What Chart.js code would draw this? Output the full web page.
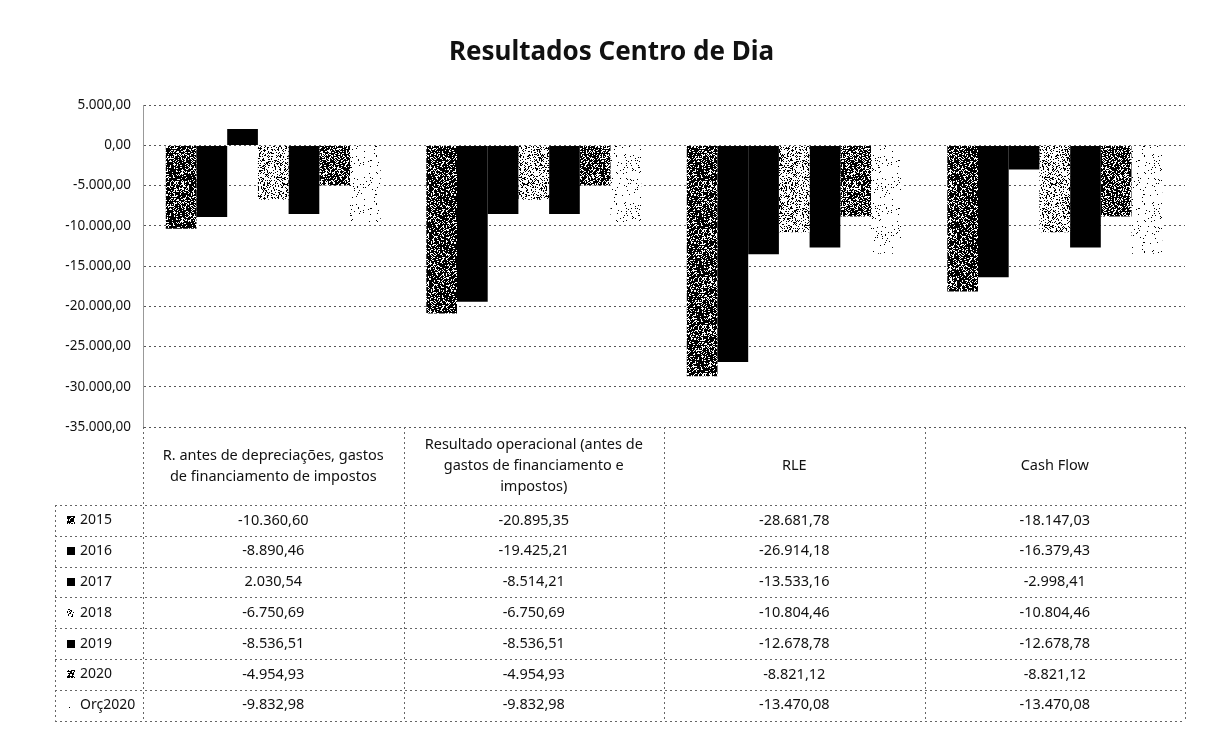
<!DOCTYPE html>
<html>
<head>
<meta charset="utf-8">
<script src="https://cdn.jsdelivr.net/npm/chart.js@4.4.1/dist/chart.umd.min.js"></script>
<style>
  html, body { margin: 0; padding: 0; background: #fff; }
  #wrap { width: 1216px; height: 731px; }
</style>
</head>
<body>
<div id="wrap"><canvas id="chart" width="1216" height="731"></canvas></div>
<script>
const categories = [
  "R. antes de depreciações, gastos de financiamento de impostos",
  "Resultado operacional (antes de gastos de financiamento e impostos)",
  "RLE",
  "Cash Flow"
];
const seriesLabels = ["2015", "2016", "2017", "2018", "2019", "2020", "Orç2020"];
const values2015 = [-10360.60, -20895.35, -28681.78, -18147.03];
const values2016 = [-8890.46, -19425.21, -26914.18, -16379.43];
const values2017 = [2030.54, -8514.21, -13533.16, -2998.41];
const values2018 = [-6750.69, -6750.69, -10804.46, -10804.46];
const values2019 = [-8536.51, -8536.51, -12678.78, -12678.78];
const values2020 = [-4954.93, -4954.93, -8821.12, -8821.12];
const valuesOrc2020 = [-9832.98, -9832.98, -13470.08, -13470.08];
const seriesValues = [values2015, values2016, values2017, values2018, values2019, values2020, valuesOrc2020];

// share of black dots in each bar's halftone
const seriesDensity = [0.74, 1, 1, 0.28, 1, 0.68, 0.05];

const FONT = "\"Noto Sans\", \"DejaVu Sans\", sans-serif";

function makeDither(density) {
  if (density >= 1) return "#000000";
  const size = 48;
  const c = document.createElement("canvas");
  c.width = size;
  c.height = size;
  const g = c.getContext("2d");
  const img = g.createImageData(size, size);
  for (let i = 0; i < size * size; i++) {
    const h = Math.sin(i * 12.9898 + 78.233) * 43758.5453;
    const v = (h - Math.floor(h)) < density ? 0 : 255;
    img.data[i * 4] = v;
    img.data[i * 4 + 1] = v;
    img.data[i * 4 + 2] = v;
    img.data[i * 4 + 3] = 255;
  }
  g.putImageData(img, 0, 0);
  return g.createPattern(c, "repeat");
}

function fmt(v) {
  const parts = Math.abs(v).toFixed(2).split(".");
  const intPart = parts[0].replace(/\B(?=(\d{3})+(?!\d))/g, ".");
  return (v < 0 ? "-" : "") + intPart + "," + parts[1];
}

function wrapText(ctx, text, maxWidth) {
  const words = text.split(" ");
  const lines = [];
  let line = "";
  words.forEach((w) => {
    const test = line ? line + " " + w : w;
    if (line && ctx.measureText(test).width > maxWidth) {
      lines.push(line);
      line = w;
    } else {
      line = test;
    }
  });
  if (line) lines.push(line);
  return lines;
}

const fills = seriesDensity.map(makeDither);

Chart.register({
  id: "dataTable",
  afterDraw(chart, args, opts) {
    const ctx = chart.ctx;
    const a = chart.chartArea;
    const colW = (a.right - a.left) / categories.length;
    const legendLeft = opts.legendLeft;
    const headTop = a.bottom;
    const rowsTop = headTop + opts.headerHeight;
    const rowH = opts.rowHeight;
    const bottom = rowsTop + rowH * seriesLabels.length;

    ctx.save();
    ctx.strokeStyle = "#666";
    ctx.lineWidth = 1;
    ctx.setLineDash([2, 3]);
    ctx.beginPath();
    for (let r = 0; r <= seriesLabels.length; r++) {
      const y = Math.round(rowsTop + r * rowH) + 0.5;
      ctx.moveTo(legendLeft, y);
      ctx.lineTo(a.right, y);
    }
    ctx.moveTo(legendLeft + 0.5, rowsTop);
    ctx.lineTo(legendLeft + 0.5, bottom);
    for (let c = 0; c <= categories.length; c++) {
      const x = Math.round(a.left + c * colW) + 0.5;
      ctx.moveTo(x, headTop);
      ctx.lineTo(x, bottom);
    }
    ctx.stroke();
    ctx.setLineDash([]);

    ctx.fillStyle = "#111";
    ctx.textAlign = "center";
    ctx.textBaseline = "middle";
    ctx.font = "14.5px " + FONT;
    categories.forEach((cat, c) => {
      const cx = chart.scales.x.getPixelForValue(c);
      const lines = wrapText(ctx, cat, colW - 25);
      const lh = 21;
      const y0 = headTop + opts.headerHeight / 2 - (lines.length - 1) * lh / 2;
      lines.forEach((ln, i) => ctx.fillText(ln, cx, y0 + i * lh));
      seriesValues.forEach((vals, s) => {
        ctx.fillText(fmt(vals[c]), cx, rowsTop + s * rowH + rowH / 2);
      });
    });

    ctx.textAlign = "left";
    ctx.font = "14px " + FONT;
    seriesLabels.forEach((lab, s) => {
      const cy = rowsTop + s * rowH + rowH / 2;
      ctx.fillStyle = fills[s];
      ctx.fillRect(legendLeft + 12, Math.round(cy - 4), 8, 8);
      ctx.fillStyle = "#111";
      ctx.fillText(lab, legendLeft + 25, cy);
    });
    ctx.restore();
  }
});

new Chart(document.getElementById("chart"), {
  type: "bar",
  data: {
    labels: categories,
    datasets: seriesLabels.map((lab, s) => ({
      label: lab,
      data: seriesValues[s],
      backgroundColor: fills[s],
      borderWidth: 0,
      categoryPercentage: 0.825,
      barPercentage: 1
    }))
  },
  options: {
    responsive: false,
    animation: false,
    layout: {
      padding: { top: 0, right: 31, bottom: 304, left: 38 }
    },
    plugins: {
      legend: { display: false },
      tooltip: { enabled: false },
      title: {
        display: true,
        text: "Resultados Centro de Dia",
        color: "#111",
        font: { family: FONT, size: 26, weight: "bold" },
        padding: { top: 37, bottom: 37 }
      },
      dataTable: {
        legendLeft: 55,
        headerHeight: 78,
        rowHeight: 30.8
      }
    },
    scales: {
      x: {
        display: false
      },
      y: {
        min: -35000,
        max: 5000,
        afterFit: (scale) => { scale.width = 105; },
        ticks: {
          stepSize: 5000,
          padding: 12,
          color: "#111",
          font: { family: FONT, size: 13.5 },
          callback: (v) => fmt(v)
        },
        grid: {
          color: "#555",
          lineWidth: 1,
          drawTicks: false
        },
        border: {
          display: true,
          color: "#999",
          dash: [2, 3]
        }
      }
    }
  }
});
</script>
</body>
</html>
